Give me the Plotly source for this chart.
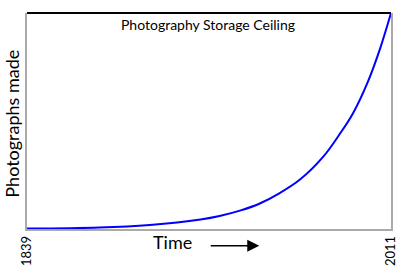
import plotly.graph_objects as go

years = [1839, 1873, 1897, 1921, 1930, 1940, 1949, 1958, 1968, 1979, 1987, 1993, 2000, 2006, 2011]
photos = [0.2, 0.7, 1.9, 4.4, 6.0, 8.6, 11.8, 16.4, 22.9, 33.5, 44.3, 53.5, 68.0, 84.0, 100.0]
tick_vals = [1839, 2011]
tick_text = ["1839", "2011"]
title_text = "Photography Storage Ceiling"
y_label = "Photographs made"
x_label = "Time"

FONT = "Lato, 'Open Sans', sans-serif"

fig = go.Figure()
fig.add_trace(go.Scatter(x=years, y=photos, mode="lines",
                         line=dict(color="#0000ff", width=2, shape="spline", smoothing=1.0),
                         hoverinfo="skip", showlegend=False))

fig.update_layout(
    width=400, height=271,
    margin=dict(l=27, r=9, t=13, b=42, autoexpand=False),
    paper_bgcolor="white", plot_bgcolor="white",
    showlegend=False,
    xaxis=dict(range=[1839, 2011], showgrid=False, zeroline=False, automargin=False,
               showline=True, linecolor="#aaaaaa", linewidth=1.5, mirror=False,
               tickmode="array", tickvals=tick_vals, ticktext=tick_text,
               tickangle=-90, ticks="", tickfont=dict(family=FONT, size=13, color="black")),
    yaxis=dict(range=[0, 100], showgrid=False, zeroline=False, automargin=False,
               showline=True, linecolor="#aaaaaa", linewidth=1.5, mirror=True,
               showticklabels=False, ticks=""),
    shapes=[dict(type="line", xref="paper", yref="paper", x0=0, x1=1, y0=1, y1=1,
                 line=dict(color="black", width=2))],
    annotations=[
        dict(text=title_text, xref="paper", yref="paper", x=0.497, y=0.995,
             xanchor="center", yanchor="top", showarrow=False,
             font=dict(family=FONT, size=14, color="black")),
        dict(text=y_label, xref="paper", yref="paper", x=-0.041, y=0.488,
             xanchor="center", yanchor="middle", textangle=-90, showarrow=False,
             font=dict(family=FONT, size=18, color="black")),
        dict(text=x_label, xref="paper", yref="paper", x=0.401, y=-0.06,
             xanchor="center", yanchor="middle", showarrow=False,
             font=dict(family=FONT, size=18, color="black")),
        dict(text="", xref="paper", yref="paper", x=0.638, y=-0.077,
             ax=-50, ay=0, showarrow=True, arrowhead=2, arrowsize=1.6,
             arrowwidth=1.5, arrowcolor="black"),
    ],
)

fig.write_html("out.html")
